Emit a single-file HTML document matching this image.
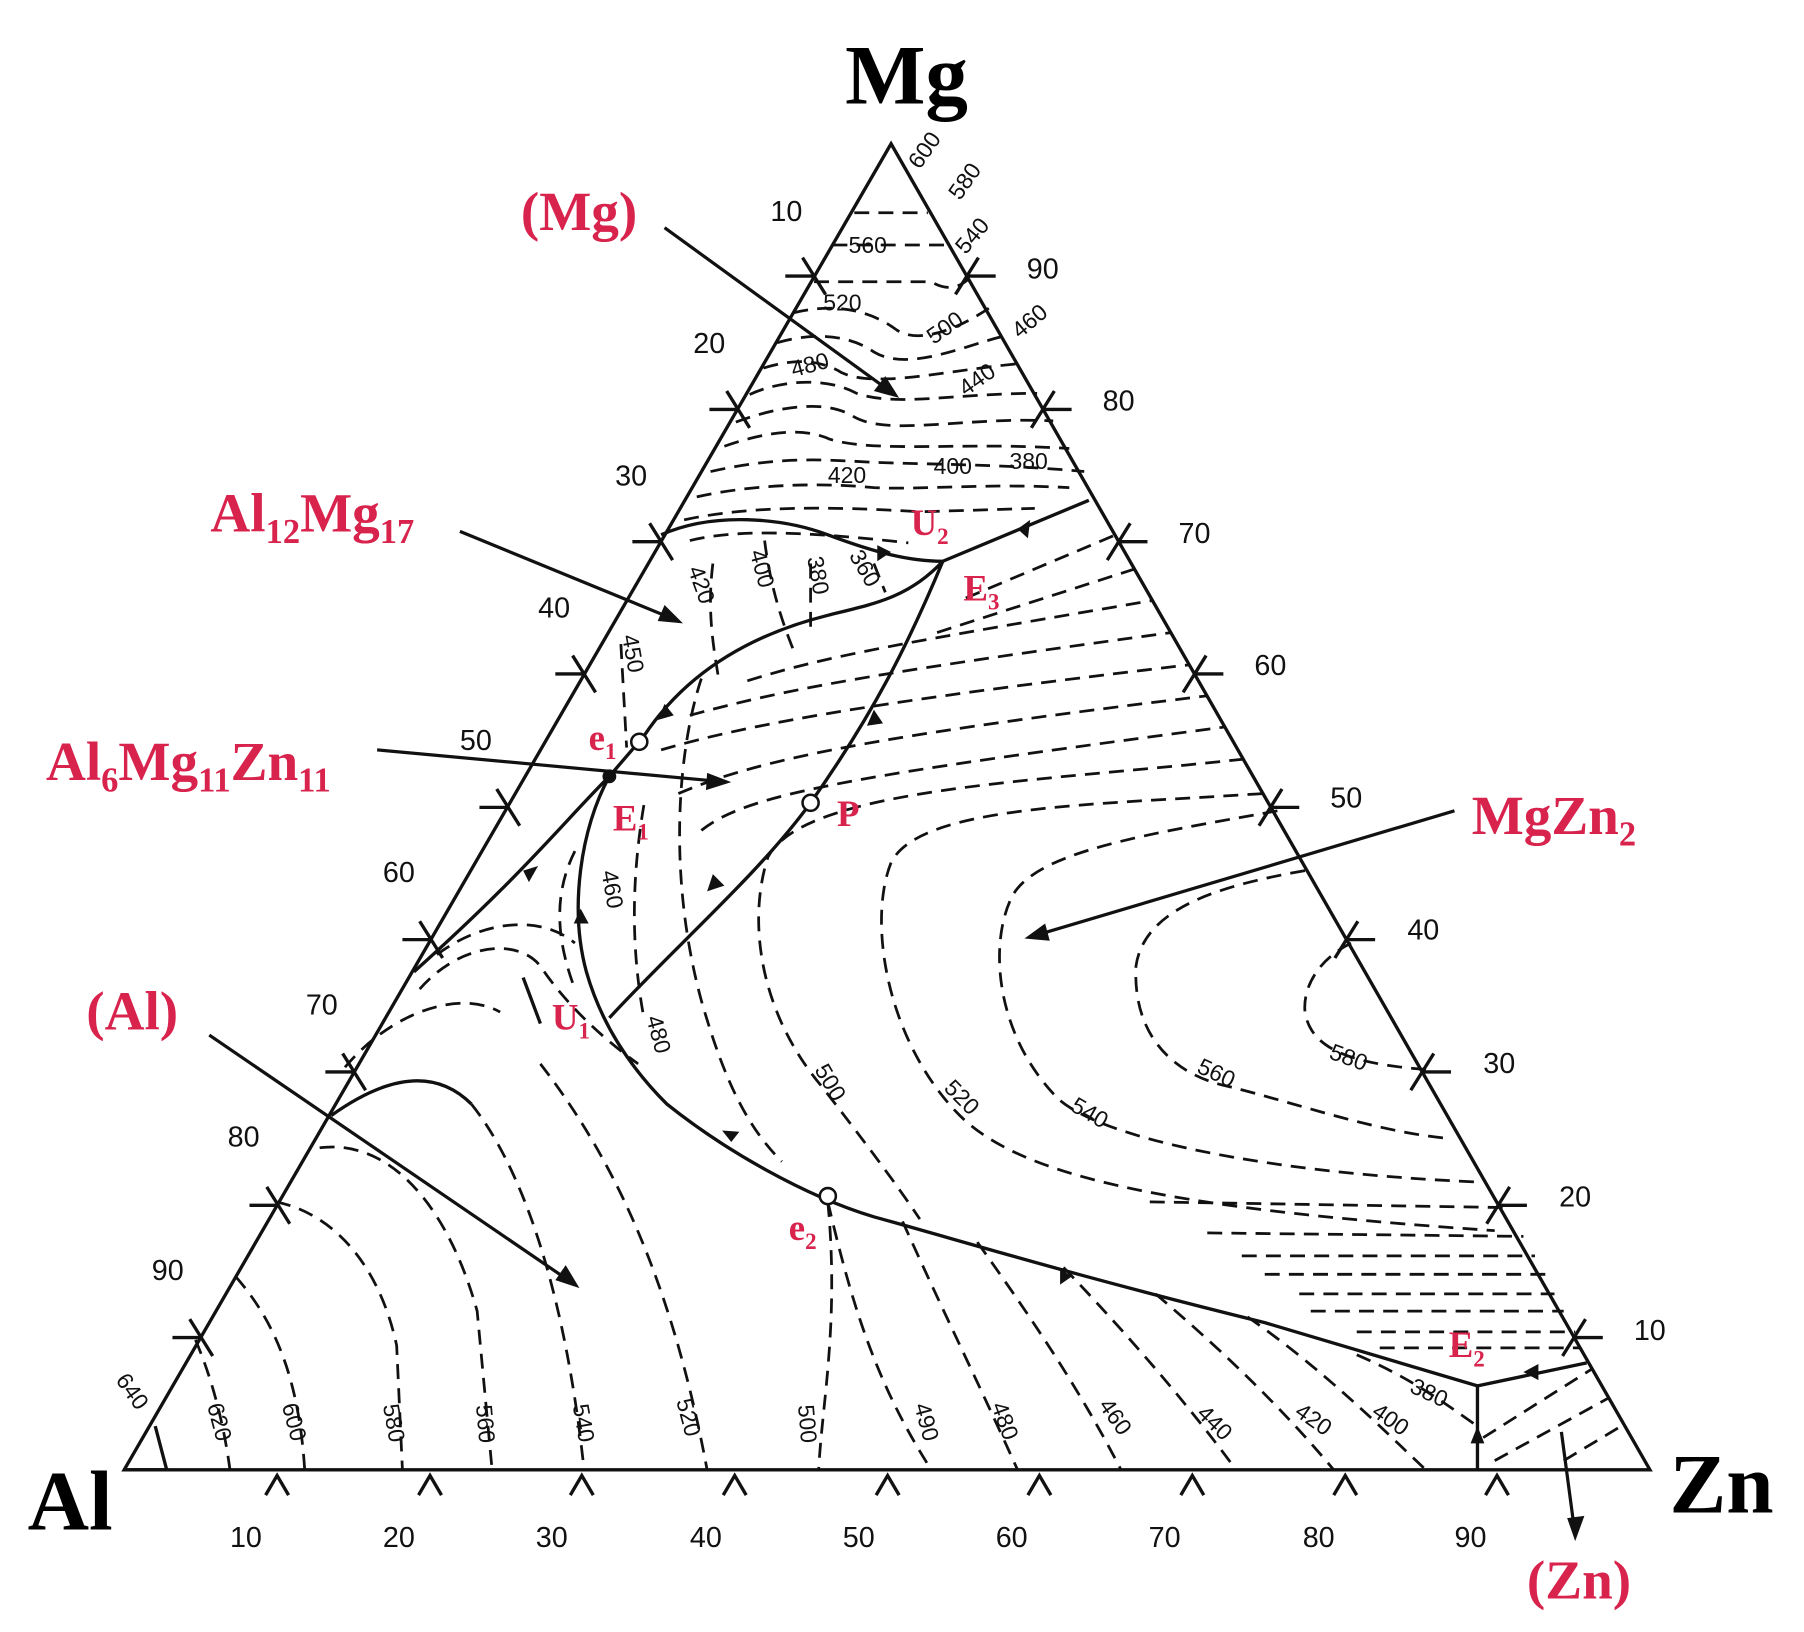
<!DOCTYPE html>
<html><head><meta charset="utf-8"><style>
html,body{margin:0;padding:0;background:#fff}
svg{display:block}
.s{fill:none;stroke:#111;stroke-width:2.9}
.d{fill:none;stroke:#111;stroke-width:2.4;stroke-dasharray:13 8}
.t{font-family:"Liberation Sans",sans-serif;font-size:25px;fill:#111}
.iso{font-family:"Liberation Sans",sans-serif;font-size:20px;fill:#111}
.big{font-family:"Liberation Serif",serif;font-weight:bold;font-size:74px;fill:#000}
.r{font-family:"Liberation Serif",serif;font-weight:bold;font-size:48px;fill:#d8234d}
.rs{font-family:"Liberation Serif",serif;font-weight:bold;font-size:32px;fill:#d8234d}
.sub{font-size:30px}
.subs{font-size:20px}
</style></head><body>
<svg width="1804" height="1632" viewBox="0 0 1569 1419" preserveAspectRatio="none" xmlns="http://www.w3.org/2000/svg">
<rect width="1569" height="1419" fill="#fff"/>
<path class="s" d="M108 1278 L775 125 L1435 1278 Z" stroke-width="2.6"/>
<g class="s" stroke-width="2.2">
<path d="M231 1300 L241 1283 L251 1300"/><path d="M364 1300 L374 1283 L384 1300"/><path d="M496 1300 L506 1283 L516 1300"/>
<path d="M629 1300 L639 1283 L649 1300"/><path d="M762 1300 L772 1283 L782 1300"/><path d="M894 1300 L904 1283 L914 1300"/>
<path d="M1027 1300 L1037 1283 L1047 1300"/><path d="M1160 1300 L1170 1283 L1180 1300"/><path d="M1292 1300 L1302 1283 L1312 1300"/>
<path d="M683 240 L708 240 M698 224 L718 256"/><path d="M617 356 L642 356 M632 340 L652 372"/><path d="M550 471 L575 471 M565 455 L585 487"/>
<path d="M483 586 L508 586 M498 570 L518 602"/><path d="M417 702 L442 702 M432 686 L452 718"/><path d="M350 817 L375 817 M365 801 L385 833"/>
<path d="M283 932 L308 932 M298 916 L318 948"/><path d="M217 1048 L242 1048 M232 1032 L252 1064"/><path d="M150 1163 L175 1163 M165 1147 L185 1179"/>
<path d="M841 240 L866 240 M851 224 L831 256"/><path d="M907 356 L932 356 M917 340 L897 372"/><path d="M973 471 L998 471 M983 455 L963 487"/>
<path d="M1039 586 L1064 586 M1049 570 L1029 602"/><path d="M1105 702 L1130 702 M1115 686 L1095 718"/><path d="M1171 817 L1196 817 M1181 801 L1161 833"/>
<path d="M1237 932 L1262 932 M1247 916 L1227 948"/><path d="M1303 1048 L1328 1048 M1313 1032 L1293 1064"/><path d="M1369 1163 L1394 1163 M1379 1147 L1359 1179"/>
</g>
<g class="t">
<text x="670" y="192">10</text><text x="603" y="307">20</text><text x="535" y="422">30</text><text x="468" y="537">40</text><text x="400" y="652">50</text>
<text x="333" y="767">60</text><text x="266" y="882">70</text><text x="198" y="997">80</text><text x="132" y="1113">90</text>
<text x="893" y="242">90</text><text x="959" y="357">80</text><text x="1025" y="472">70</text><text x="1091" y="587">60</text><text x="1157" y="702">50</text>
<text x="1224" y="817">40</text><text x="1290" y="933">30</text><text x="1356" y="1049">20</text><text x="1421" y="1165">10</text>
<text x="200" y="1345">10</text><text x="333" y="1345">20</text><text x="466" y="1345">30</text><text x="600" y="1345">40</text><text x="733" y="1345">50</text>
<text x="866" y="1345">60</text><text x="999" y="1345">70</text><text x="1133" y="1345">80</text><text x="1265" y="1345">90</text>
</g>
<text class="big" x="735" y="90">Mg</text>
<text class="big" x="24" y="1330">Al</text>
<text class="big" x="1452" y="1315">Zn</text>
<g class="d">
<path d="M743 185 L807 185"/>
<path d="M724 213 L826 213"/>
<path d="M708 245 L810 245 Q828 256 843 242"/>
<path d="M690 272 C730 262 760 272 780 287 C800 300 835 285 860 268"/>
<path d="M676 298 C710 288 740 292 760 306 C790 324 840 300 874 292"/>
<path d="M664 320 C690 312 712 312 732 324 C762 338 822 322 888 316"/>
<path d="M652 343 C680 330 720 328 745 342 C780 354 830 342 902 342"/>
<path d="M640 367 C680 352 720 348 742 362 C772 380 840 362 916 366"/>
<path d="M630 388 C670 374 700 372 722 382 C762 394 840 384 930 390"/>
<path d="M618 410 C680 396 720 400 760 402 C820 404 880 404 943 410"/>
<path d="M606 432 C660 420 720 420 760 424 C800 426 860 420 930 424"/>
<path d="M595 452 C650 440 720 440 800 445 L900 442"/>
<path d="M600 470 C640 460 700 462 790 472"/>
<path d="M840 520 L968 466"/>
<path d="M815 550 L986 495"/>
<path d="M650 592 C720 570 780 560 1003 522"/>
<path d="M600 622 C680 600 760 585 1019 550"/>
<path d="M575 652 C650 630 760 610 1035 578"/>
<path d="M590 690 C660 660 760 640 1050 605"/>
<path d="M610 722 C650 690 740 675 1066 632"/>
<path d="M1082 660 C900 680 700 685 668 745 C650 800 660 880 715 945 C750 990 780 1030 800 1060"/>
<path d="M1098 690 C950 700 800 700 775 750 C755 800 770 900 830 965 C880 1020 1000 1050 1300 1070"/>
<path d="M1111 705 C1000 725 900 740 880 780 C860 820 865 900 921 956 C960 990 1100 1020 1290 1028"/>
<path d="M1135 757 C1060 770 995 790 988 840 C985 900 1020 935 1070 945 C1130 960 1200 985 1262 990"/>
<path d="M1175 820 C1145 835 1133 860 1135 880 C1140 910 1170 925 1242 930"/>
<path d="M1000 1045 L1310 1050"/><path d="M1050 1072 L1325 1075"/><path d="M1080 1092 L1335 1092"/>
<path d="M1100 1108 L1345 1108"/><path d="M1130 1125 L1352 1125"/><path d="M1140 1140 L1360 1140"/>
<path d="M1180 1158 L1370 1158"/><path d="M1200 1172 L1375 1172"/>
<path d="M720 1045 C740 1130 760 1200 810 1278"/>
<path d="M785 1062 C820 1140 850 1200 885 1278"/>
<path d="M850 1080 C900 1150 940 1210 975 1278"/>
<path d="M925 1102 C990 1170 1040 1230 1075 1278"/>
<path d="M1005 1125 C1070 1180 1120 1230 1160 1278"/>
<path d="M1085 1145 C1150 1190 1200 1240 1240 1278"/>
<path d="M1180 1178 C1220 1195 1250 1215 1282 1238"/>
<path d="M720 1045 C730 1150 715 1220 712 1278"/>
<path d="M1290 1250 L1385 1190"/><path d="M1300 1270 L1400 1215"/><path d="M1360 1270 L1410 1240"/>
<path d="M170 1165 C185 1200 195 1240 200 1278"/>
<path d="M205 1110 C240 1150 260 1200 265 1278"/>
<path d="M240 1045 C290 1055 330 1100 345 1170 L350 1278"/>
<path d="M278 998 C340 990 390 1050 415 1140 L428 1278"/>
<path d="M410 960 C450 1010 490 1110 508 1278"/>
<path d="M300 928 C340 880 400 860 435 880 M470 925 C520 990 580 1090 615 1278"/>
<path d="M365 860 C400 820 450 815 470 840 C490 870 520 900 555 925"/>
<path d="M380 830 C420 800 470 795 500 820"/>
<path d="M540 560 L545 650"/>
<path d="M560 700 C550 760 548 820 560 885"/>
<path d="M610 590 C590 650 580 760 610 870 C630 940 650 980 680 1010"/>
<path d="M620 490 C615 530 620 560 625 590"/>
<path d="M665 470 C670 510 680 540 690 565"/>
<path d="M705 490 L705 545"/>
<path d="M760 490 L770 515"/>
<path d="M500 740 C480 780 485 820 500 860"/>
</g>
<g class="s">
<path d="M575 465 C620 445 680 450 720 465 C760 480 790 488 820 488"/>
<path d="M820 488 L947 435"/>
<path d="M820 488 C790 520 760 525 720 535 C660 550 600 580 560 640 L530 675"/>
<path d="M820 488 C790 560 760 620 705 698 C660 760 590 820 530 885"/>
<path d="M530 675 C490 715 455 760 360 845"/>
<path d="M530 675 C505 720 495 790 510 845 C520 880 540 920 580 960 C630 1000 700 1040 760 1058 C840 1080 930 1108 1100 1150 L1285 1205"/>
<path d="M1285 1205 L1380 1185 M1285 1205 L1285 1278"/>
<path d="M288 970 C330 940 375 925 410 960"/>
<path d="M455 850 L470 890"/>
<path d="M108 1278 L145 1278 L135 1240"/>
</g>
<g fill="#111">
<polygon points="775,480 763,474 763,488"/><polygon points="885,460 896,452 894,468"/>
<polygon points="578,612 572,626 586,622"/><polygon points="760,617 754,631 768,629"/>
<polygon points="615,775 620,760 630,770"/><polygon points="455,757 468,753 460,767"/>
<polygon points="505,790 499,803 512,803"/><polygon points="636,993 628,983 643,984"/>
<polygon points="932,1110 922,1103 922,1117"/><polygon points="1325,1193 1338,1186 1338,1200"/>
<polygon points="1285,1240 1279,1255 1291,1255"/>
</g>
<g fill="#fff" stroke="#111" stroke-width="2.2">
<circle cx="556" cy="645" r="7"/><circle cx="705" cy="698" r="7"/><circle cx="720" cy="1040" r="7"/>
</g>
<circle cx="530" cy="675" r="6" fill="#111"/>
<g stroke="#111" stroke-width="2.8" fill="none">
<path d="M578 198 L778 343"/><path d="M400 462 L590 540"/><path d="M328 652 L632 680"/>
<path d="M1265 705 L895 815"/><path d="M182 900 L500 1117"/><path d="M1358 1245 L1370 1335"/>
</g>
<g fill="#111">
<polygon points="782,346 760,340 770,327"/><polygon points="594,542 572,540 578,526"/>
<polygon points="636,680 614,687 615,672"/><polygon points="891,816 909,803 913,818"/>
<polygon points="504,1120 483,1113 492,1100"/><polygon points="1370,1340 1363,1320 1378,1318"/>
</g>
<g class="iso">
<text x="738" y="220">560</text><text x="716" y="270">520</text><text x="690" y="328" transform="rotate(-15 690 328)">480</text>
<text x="720" y="420">420</text><text x="812" y="412">400</text><text x="878" y="408">380</text>
<text x="800" y="148" transform="rotate(-55 800 148)">600</text><text x="835" y="175" transform="rotate(-55 835 175)">580</text>
<text x="840" y="222" transform="rotate(-50 840 222)">540</text><text x="812" y="300" transform="rotate(-35 812 300)">500</text>
<text x="887" y="295" transform="rotate(-40 887 295)">460</text><text x="840" y="345" transform="rotate(-35 840 345)">440</text>
<text x="598" y="495" transform="rotate(70 598 495)">420</text><text x="652" y="480" transform="rotate(75 652 480)">400</text>
<text x="702" y="485" transform="rotate(80 702 485)">380</text><text x="738" y="483" transform="rotate(60 738 483)">360</text>
<text x="541" y="553" transform="rotate(80 541 553)">450</text><text x="523" y="758" transform="rotate(80 523 758)">460</text>
<text x="562" y="885" transform="rotate(75 562 885)">480</text><text x="708" y="930" transform="rotate(60 708 930)">500</text>
<text x="820" y="947" transform="rotate(45 820 947)">520</text><text x="930" y="965" transform="rotate(30 930 965)">540</text>
<text x="1040" y="932" transform="rotate(25 1040 932)">560</text><text x="1155" y="920" transform="rotate(20 1155 920)">580</text>
<text x="100" y="1200" transform="rotate(55 100 1200)">640</text><text x="180" y="1222" transform="rotate(75 180 1222)">620</text>
<text x="245" y="1222" transform="rotate(75 245 1222)">600</text><text x="333" y="1222" transform="rotate(80 333 1222)">580</text>
<text x="414" y="1222" transform="rotate(85 414 1222)">560</text><text x="498" y="1222" transform="rotate(80 498 1222)">540</text>
<text x="588" y="1218" transform="rotate(75 588 1218)">520</text><text x="694" y="1222" transform="rotate(85 694 1222)">500</text>
<text x="795" y="1222" transform="rotate(75 795 1222)">490</text><text x="862" y="1222" transform="rotate(70 862 1222)">480</text>
<text x="955" y="1222" transform="rotate(55 955 1222)">460</text><text x="1040" y="1230" transform="rotate(45 1040 1230)">440</text>
<text x="1125" y="1230" transform="rotate(35 1125 1230)">420</text><text x="1192" y="1230" transform="rotate(35 1192 1230)">400</text>
<text x="1225" y="1210" transform="rotate(25 1225 1210)">380</text>
</g>
<text class="r" x="453" y="200">(Mg)</text>
<text class="r" x="183" y="462">Al<tspan class="sub" dy="10">12</tspan><tspan dy="-10">Mg</tspan><tspan class="sub" dy="10">17</tspan></text>
<text class="r" x="40" y="678">Al<tspan class="sub" dy="10">6</tspan><tspan dy="-10">Mg</tspan><tspan class="sub" dy="10">11</tspan><tspan dy="-10">Zn</tspan><tspan class="sub" dy="10">11</tspan></text>
<text class="r" x="1280" y="725">MgZn<tspan class="sub" dy="10">2</tspan></text>
<text class="r" x="75" y="895">(Al)</text>
<text class="r" x="1328" y="1390">(Zn)</text>
<text class="rs" x="792" y="465">U<tspan class="subs" dy="8">2</tspan></text>
<text class="rs" x="838" y="522">E<tspan class="subs" dy="8">3</tspan></text>
<text class="rs" x="512" y="652">e<tspan class="subs" dy="8">1</tspan></text>
<text class="rs" x="533" y="722">E<tspan class="subs" dy="8">1</tspan></text>
<text class="rs" x="728" y="718">P</text>
<text class="rs" x="480" y="895">U<tspan class="subs" dy="8">1</tspan></text>
<text class="rs" x="686" y="1078">e<tspan class="subs" dy="8">2</tspan></text>
<text class="rs" x="1260" y="1180">E<tspan class="subs" dy="8">2</tspan></text>
</svg>
</body></html>
